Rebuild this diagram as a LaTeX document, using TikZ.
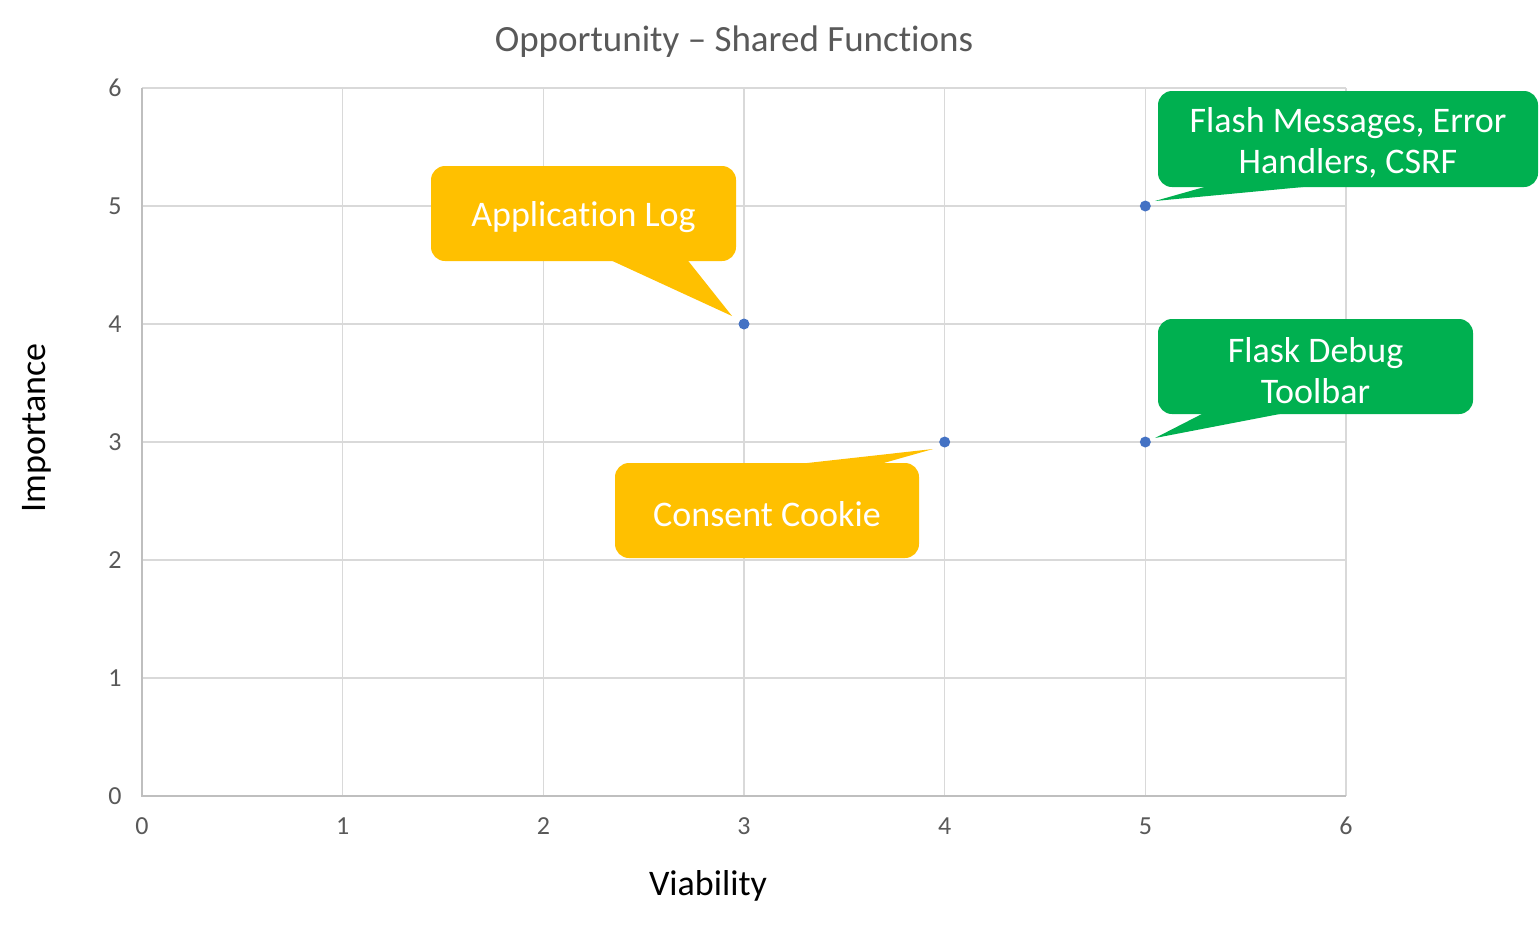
\documentclass[tikz,border=0pt]{standalone}
\usepackage{fontspec}
\setmainfont{Carlito}[Ligatures=NoCommon]
\usetikzlibrary{calc}
\definecolor{yel}{HTML}{FFC000}
\definecolor{grn}{HTML}{00B050}
\definecolor{dotc}{HTML}{4472C4}
\definecolor{gridc}{HTML}{D9D9D9}
\definecolor{axisc}{HTML}{BFBFBF}
\definecolor{txtg}{HTML}{595959}
\tikzset{
  callout/.style={rounded corners=7pt, inner sep=0pt},
  yelbox/.style={callout, fill=yel},
  grnbox/.style={callout, fill=grn},
  calltext/.style={align=center, text=white, inner sep=0pt, yshift=-2pt,
    font=\fontsize{18}{20.5}\selectfont},
  datadot/.style={circle, fill=dotc, inner sep=0pt, minimum size=5.5pt},
  ticklab/.style={text=txtg, font=\fontsize{13}{15}\selectfont, inner sep=0pt},
  axtitle/.style={font=\fontsize{18}{21}\selectfont, inner sep=0pt},
}
\begin{document}
\begin{tikzpicture}[x=0.5pt,y=-0.5pt]
\useasboundingbox (0,0) rectangle (1540,928);
\fill[white] (0,0) rectangle (1540,928);
% chart area
\begin{scope}[shift={(71pt,-398pt)}, x=100.3333pt, y=59pt]
  \foreach \i in {1,...,6} \draw[gridc, line width=0.55pt] (\i,0) -- (\i,6);
  \foreach \j in {1,...,6} \draw[gridc, line width=0.55pt] (0,\j) -- (6,\j);
  \draw[axisc, line width=0.7pt] (0,6) -- (0,0) -- (6,0);
  \foreach \i in {0,...,6} \node[ticklab] (xt\i) at ([yshift=-15pt]\i,0) {\i};
  \foreach \j in {0,...,6} \node[ticklab, anchor=east] (yt\j) at ([xshift=-10pt]0,\j) {\j};
  \coordinate (c1) at (3,4);
  \coordinate (c2) at (5,5);
  \coordinate (c3) at (4,3);
  \coordinate (c4) at (5,3);
\end{scope}
% titles
\node[text=txtg, font=\fontsize{18.5}{22}\selectfont, inner sep=0pt] (title) at (734,42) {Opportunity – Shared Functions};
\node[axtitle] (xtitle) at (708,886) {Viability};
\node[axtitle, rotate=90] (ytitle) at (37,428) {Importance};
% callout boxes
\node[yelbox, minimum width=152.5pt, minimum height=47.5pt,
  label={[calltext]center:Application Log}] (al) at (583.5,213.5) {};
\node[grnbox, minimum width=190pt, minimum height=48pt,
  label={[calltext]center:{Flash Messages, Error\\Handlers, CSRF}}] (fm) at (1348,139) {};
\node[yelbox, minimum width=152pt, minimum height=47.5pt,
  label={[calltext]center:Consent Cookie}] (cc) at (767,510.5) {};
\node[grnbox, minimum width=157.5pt, minimum height=47.5pt,
  label={[calltext]center:{Flask Debug\\Toolbar}}] (fd) at (1315.5,366.5) {};
% pointer tips
\coordinate (t1) at (732,316);
\coordinate (t2) at (1155,201);
\coordinate (t3) at (933,449);
\coordinate (t4) at (1155,438);
% pointers
\fill[yel] ([xshift=12.75pt,yshift=1pt]al.south) -- (t1) -- ([xshift=51.75pt,yshift=1pt]al.south) -- cycle;
\fill[grn] ([xshift=-69pt,yshift=1pt]fm.south) -- (t2) -- ([xshift=-14pt,yshift=1pt]fm.south) -- cycle;
\fill[yel] ([xshift=13pt,yshift=-1pt]cc.north) -- (t3) -- ([xshift=55.5pt,yshift=-1pt]cc.north) -- cycle;
\fill[grn] ([xshift=-55.25pt,yshift=1pt]fd.south) -- (t4) -- ([xshift=-13.75pt,yshift=1pt]fd.south) -- cycle;
% data points
\node[datadot] (p1) at (c1) {};
\node[datadot] (p2) at (c2) {};
\node[datadot] (p3) at (c3) {};
\node[datadot] (p4) at (c4) {};
\end{tikzpicture}
\end{document}
